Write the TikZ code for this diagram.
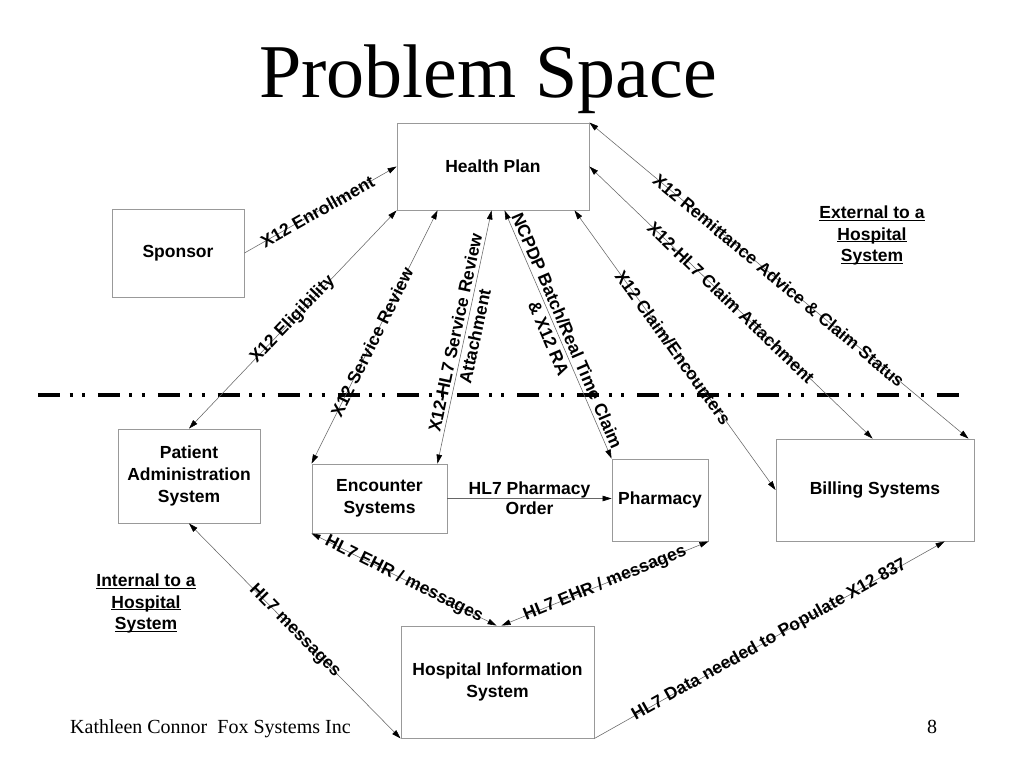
\documentclass[tikz,border=0pt]{standalone}
\usepackage{fontspec}
\setmainfont{Liberation Sans}
\newfontfamily\serifface{Liberation Serif}
\usetikzlibrary{arrows.meta,calc}
\newcommand\myul[1]{\underline{\smash{#1}}}
\begin{document}
\begin{tikzpicture}[x=1pt,y=-1pt,
  box/.style={draw=black!40, line width=0.9pt, rectangle, inner sep=0pt, align=center,
    font=\bfseries\fontsize{17.5}{21.7}\selectfont},
  tip/.tip={Triangle[length=9pt,width=5.5pt,color=black]},
  link/.style={draw=black!60, line width=0.55pt},
  both/.style={link, tip-tip},
  one/.style={link, -tip},
  lab/.style={sloped, inner sep=0pt, align=center, text=black,
    font=\bfseries\fontsize{17.5}{20}\selectfont},
  note/.style={inner sep=0pt, align=center, font=\bfseries\fontsize{17.5}{21.7}\selectfont},
  divider/.style={line width=4pt, dash pattern=on 22pt off 9.5pt on 3pt off 9.5pt on 3pt off 12.9pt}
]
\useasboundingbox[fill=white] (0,0) rectangle (1024,768);

% title and footer
\node[font=\serifface\fontsize{76}{80}\selectfont, anchor=base, inner sep=0pt] (title) at (488,97) {Problem Space};
\node[font=\serifface\fontsize{20}{24}\selectfont, anchor=base west, inner sep=0pt] (foot) at (70,733) {Kathleen Connor\ \ Fox Systems Inc};
\node[font=\serifface\fontsize{20}{24}\selectfont, anchor=base, inner sep=0pt] (page) at (932,733) {8};

% boxes
\node[box, minimum width=192pt, minimum height=87pt] (hp) at (493,166.5) {Health Plan};
\node[box, minimum width=132pt, minimum height=88pt] (sp) at (178,253) {Sponsor};
\node[box, minimum width=142pt, minimum height=94pt] (pas) at (189,476) {Patient\\Administration\\System};
\node[box, minimum width=135pt, minimum height=69pt] (enc) at (379.5,498.5) {Encounter\\Systems};
\node[box, minimum width=96pt, minimum height=82pt] (ph) at (660,500) {Pharmacy};
\node[box, minimum width=198pt, minimum height=102pt] (bill) at (875,490) {Billing Systems};
\node[box, minimum width=193pt, minimum height=112pt] (his) at (497.5,682) {Hospital Information\\System};

% notes
\node[note] (ext) at (872,241) {\myul{External to a}\\\myul{Hospital}\\\myul{System}};
\node[note] (int) at (146,609) {\myul{Internal to a}\\\myul{Hospital}\\\myul{System}};

% divider
\coordinate (dl) at (38,395);
\coordinate (dr) at (958.5,395);
\draw[divider] (dl) -- (dr);

% connectors
\draw[one] (sp.east) -- node[lab, pos=0.48] {X12 Enrollment} (hp.west);
\draw[both] (hp.south west) -- node[lab, pos=0.5] {X12 Eligibility} (pas.north);
\draw[both] ($(hp.south west)+(41,0)$) -- node[lab, pos=0.52] {X12 Service Review} (enc.north west);
\draw[both] ($(hp.south west)+(95,0)$) -- node[lab, pos=0.49] {X12-HL7 Service Review\\Attachment} ($(enc.north east)+(-10,0)$);
\draw[both] ($(hp.south west)+(108,0)$) -- node[lab, pos=0.5] {NCPDP Batch/Real Time Claim\\\& X12 RA} (ph.north west);
\draw[both] ($(hp.south west)+(178,0)$) -- node[lab, pos=0.49] {X12 Claim/Encounters} (bill.west);
\draw[both] (hp.east) -- node[lab, pos=0.5] {X12-HL7 Claim Attachment} ($(bill.north west)+(97,0)$);
\draw[both] (hp.north east) -- node[lab, pos=0.5] {X12 Remittance Advice \& Claim Status} ($(bill.north east)+(-6,0)$);
\draw[one] (enc.east) -- node[lab, pos=0.5] {HL7 Pharmacy\\Order} (enc.east -| ph.west);
\draw[both] (enc.south west) -- node[lab, pos=0.5] {HL7 EHR / messages} ($(his.north west)+(96,0)$);
\draw[both] (ph.south east) -- node[lab, pos=0.5] {HL7 EHR / messages} ($(his.north west)+(101,0)$);
\draw[both] (pas.south) -- node[lab, pos=0.5] {HL7 messages} (his.south west);
\draw[one] (his.south east) -- node[lab, pos=0.5] {HL7 Data needed to Populate X12 837} ($(bill.south west)+(169,0)$);
\end{tikzpicture}
\end{document}
